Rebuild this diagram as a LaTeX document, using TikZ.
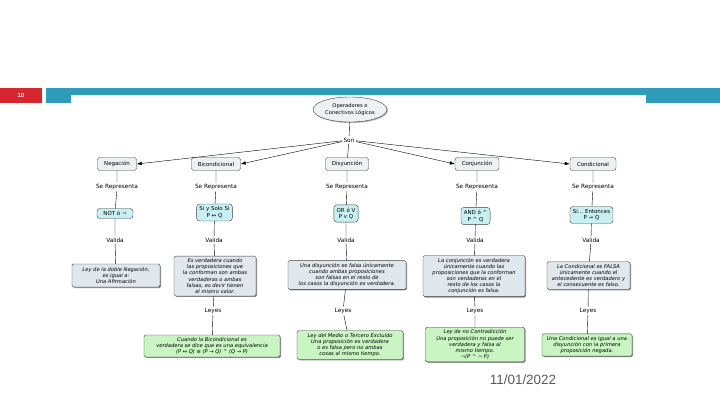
\documentclass[tikz,border=0pt]{standalone}
\usepackage{fontspec}
\setmainfont{Liberation Sans}
\newfontfamily\mapa{DejaVu Sans}
\usetikzlibrary{shapes.geometric,shadows,arrows.meta}

\definecolor{rojo}{RGB}{216,38,48}
\definecolor{turquesa}{RGB}{47,156,188}
\definecolor{fondocaja}{RGB}{236,241,244}
\definecolor{celeste}{RGB}{200,240,242}
\definecolor{grisazul}{RGB}{224,231,237}
\definecolor{verdeclaro}{RGB}{200,245,194}
\definecolor{gristexto}{RGB}{90,90,90}

\tikzset{
  concepto/.style={draw=black!75, fill=fondocaja, rounded corners=2.5bp, minimum height=13bp,
    inner xsep=3bp, font=\mapa\fontsize{5.5}{6.5}\selectfont},
  frase/.style={inner sep=1.5bp, font=\mapa\fontsize{5.8}{6.5}\selectfont},
  simbolo/.style={draw=black!75, fill=celeste, rounded corners=3bp, align=center, inner sep=2.8bp,
    font=\mapa\fontsize{5.5}{6.5}\selectfont},
  ley/.style={draw=black!75, fill=grisazul, rounded corners=1.5bp, align=center, inner sep=2.5bp,
    font=\mapa\fontsize{5.2}{6.2}\selectfont\itshape,
    drop shadow={shadow xshift=1bp, shadow yshift=-1bp, fill=black!45, opacity=1}},
  leyverde/.style={ley, fill=verdeclaro},
  flecha/.style={-{Latex[length=5bp,width=3.5bp]}},
}

\begin{document}
\begin{tikzpicture}[x=1bp, y=-1bp, thin]
    \useasboundingbox (0,0) rectangle (720,405);
    % Barra del titulo
    \fill[rojo] (0,88) rectangle (42,103);
    \node[white, font=\bfseries\fontsize{6}{7}\selectfont] (pagina) at (21,95.5) {10};
    \fill[turquesa] (46,88) rectangle (71,103);
    \fill[turquesa] (71,88) rectangle (646,95);
    \fill[turquesa] (646,88) rectangle (720,103);
    % Concepto central
    \node[ellipse, draw=black!75, fill=fondocaja, minimum width=74bp, minimum height=25bp, inner sep=0pt,
      align=center, font=\mapa\fontsize{5.2}{6.2}\selectfont,
      drop shadow={shadow xshift=1bp, shadow yshift=-1bp, fill=black!30, opacity=1}]
      (op) at (350,109.5) {Operadores o\\Conectivos Lógicos};
    \node[frase] (son) at (349,140) {Son};
    \draw (op) -- (son);
    % Operadores
    \node[concepto, minimum width=39bp] (neg) at (117,164) {Negación};
    \node[concepto, minimum width=49bp] (bic) at (216,164) {Bicondicional};
    \node[concepto, minimum width=43bp] (dis) at (347,164) {Disyunción};
    \node[concepto, minimum width=44bp] (con) at (477,164) {Conjunción};
    \node[concepto, minimum width=46bp] (cond) at (593,164) {Condicional};
    \draw[flecha] (son) -- (neg.east);
    \draw[flecha] (son) -- (bic.east);
    \draw (son) -- (dis);
    \draw[flecha] (son) -- (con.west);
    \draw[flecha] (son) -- (cond.west);
    % Negacion
    \node[frase] (negrep) at (117,187) {Se Representa};
    \node[simbolo, minimum width=36bp] (negsim) at (115,213.5) {NOT ó ¬};
    \node[frase] (negval) at (115,240) {Valida};
    \node[ley, minimum width=88bp, minimum height=23bp] (negley) at (116,275.5)
      {Ley de la doble Negación,\\es igual a:\\Una Afirmación};
    \draw (neg) -- (negrep) -- (negsim) -- (negval) -- (negley);
    % Bicondicional
    \node[frase] (bicrep) at (216,187) {Se Representa};
    \node[simbolo] (bicsim) at (214.5,212.5) {Si y Solo Si\\P ↔ Q};
    \node[frase] (bicval) at (214,240) {Valida};
    \node[ley, minimum width=82bp] (bicley) at (215,276)
      {Es verdadera cuando\\las proposiciones que\\la conforman son ambas\\verdaderas o ambas\\falsas, es decir tienen\\el mismo valor.};
    \node[frase] (bicleyes) at (213,311) {Leyes};
    \node[leyverde, minimum width=136bp] (bicverde) at (212,346)
      {Cuando la Bicondicional es\\verdadera se dice que es una equivalencia\\(P ↔ Q) ≡ (P → Q) \^{} (Q → P)};
    \draw (bic) -- (bicrep) -- (bicsim) -- (bicval) -- (bicley) -- (bicleyes) -- (bicverde);
    % Disyuncion
    \node[frase] (disrep) at (347,187) {Se Representa};
    \node[simbolo] (dissim) at (346,213.5) {OR ó V\\P v Q};
    \node[frase] (disval) at (346,240) {Valida};
    \node[ley, minimum width=118bp] (disley) at (347,275)
      {Una disyunción es falsa únicamente\\cuando ambas proposiciones\\son falsas en el resto de\\los casos la disyunción es verdadera.};
    \node[frase] (disleyes) at (343,311) {Leyes};
    \node[leyverde, minimum width=106bp] (disverde) at (350,345)
      {Ley del Medio o Tercero Excluido\\Una proposición es verdadera\\o es falsa pero no ambas\\cosas al mismo tiempo.};
    \draw (dis) -- (disrep) -- (dissim) -- (disval) -- (disley) -- (disleyes) -- (disverde);
    % Conjuncion
    \node[frase] (conrep) at (477,187) {Se Representa};
    \node[simbolo] (consim) at (475.5,216) {AND ó \^{}\\P \^{} Q};
    \node[frase] (conval) at (475,240) {Valida};
    \node[ley, minimum width=102bp] (conley) at (474,276)
      {La conjunción es verdadera\\únicamente cuando las\\proposiciones que la conforman\\son verdaderas en el\\resto de los casos la\\conjunción es falsa.};
    \node[frase] (conleyes) at (475,311) {Leyes};
    \node[leyverde, minimum width=99bp] (converde) at (475,344.5)
      {Ley de no Contradicción\\Una proposición no puede ser\\verdadera y falsa al\\mismo tiempo.\\¬(P \^{} ¬ P)};
    \draw (con) -- (conrep) -- (consim) -- (conval) -- (conley) -- (conleyes) -- (converde);
    % Condicional
    \node[frase] (condrep) at (593,187) {Se Representa};
    \node[simbolo] (condsim) at (591.5,215) {Si… Entonces\\P → Q};
    \node[frase] (condval) at (591,240) {Valida};
    \node[ley, minimum width=83bp] (condley) at (588.5,275.5)
      {La Condicional es FALSA\\únicamente cuando el\\antecedente es verdadero y\\el consecuente es falso.};
    \node[frase] (condleyes) at (588,311) {Leyes};
    \node[leyverde, minimum width=90bp] (condverde) at (587,345)
      {Una Condicional es igual a una\\disyunción con la primera\\proposición negada.};
    \draw (cond) -- (condrep) -- (condsim) -- (condval) -- (condley) -- (condleyes) -- (condverde);
    % Fecha
    \node[gristexto, font=\fontsize{13.5}{16}\selectfont] (fecha) at (523,380) {11/01/2022};
\end{tikzpicture}
\end{document}
